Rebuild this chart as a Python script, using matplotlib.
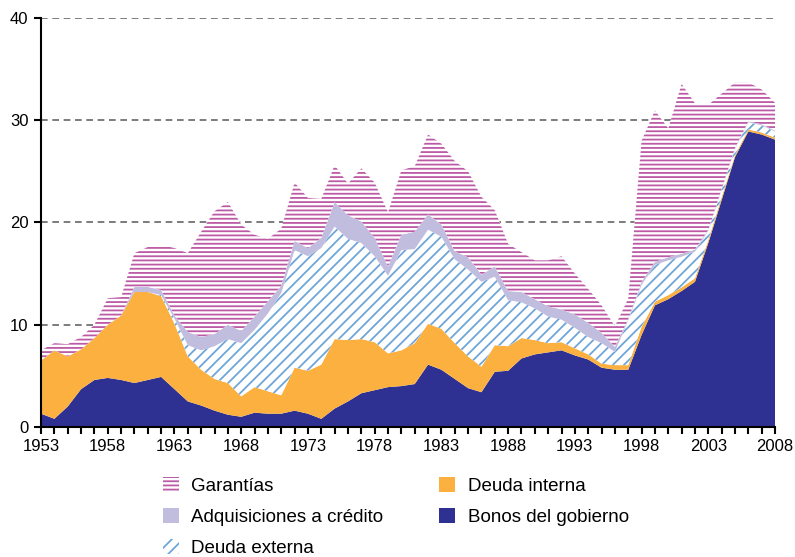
import numpy as np
import matplotlib
matplotlib.use("Agg")
import matplotlib.pyplot as plt

years = np.arange(1953, 2009)

bonos = [
    1.3, 0.8, 2.0, 3.7, 4.6, 4.8, 4.6, 4.3, 4.6, 4.9,
    3.7, 2.5, 2.1, 1.6, 1.2, 1.0, 1.4, 1.3, 1.3, 1.6,
    1.3, 0.8, 1.8, 2.5, 3.3, 3.6, 3.9, 4.0, 4.2, 6.1,
    5.6, 4.7, 3.8, 3.4, 5.4, 5.5, 6.7, 7.1, 7.3, 7.5,
    7.0, 6.6, 5.8, 5.6, 5.6, 9.0, 11.9, 12.5, 13.3, 14.2,
    18.0, 22.2, 26.4, 28.9, 28.6, 28.1,
]
deuda_interna = [
    5.2, 6.7, 4.9, 3.9, 4.1, 5.2, 6.3, 8.9, 8.6, 7.9,
    6.4, 4.4, 3.5, 3.1, 3.1, 2.0, 2.5, 2.2, 1.8, 4.2,
    4.2, 5.3, 6.8, 6.0, 5.3, 4.7, 3.3, 3.5, 4.0, 4.0,
    4.0, 3.5, 3.1, 2.5, 2.6, 2.4, 2.0, 1.4, 0.9, 0.8,
    0.7, 0.5, 0.4, 0.45, 0.45, 0.8, 0.35, 0.4, 0.35, 0.35,
    0.3, 0.3, 0.2, 0.2, 0.2, 0.2,
]
deuda_externa = [
    0.0, 0.0, 0.0, 0.0, 0.0, 0.0, 0.0, 0.0, 0.0, 0.1,
    0.5, 1.1, 1.9, 3.2, 4.3, 5.2, 5.6, 7.6, 10.0, 11.5,
    11.2, 11.4, 11.0, 9.9, 9.4, 8.4, 7.6, 9.8, 9.2, 9.2,
    9.0, 8.2, 8.5, 8.3, 6.7, 4.5, 3.5, 3.1, 2.6, 2.2,
    2.0, 1.7, 2.0, 1.3, 4.4, 4.1, 3.6, 3.4, 3.0, 2.6,
    0.9, 0.7, 0.6, 0.7, 0.7, 0.6,
]
adquisiciones = [
    0.0, 0.0, 0.0, 0.0, 0.0, 0.0, 0.0, 0.5, 0.5, 0.5,
    0.3, 1.3, 1.3, 1.2, 1.4, 1.2, 1.3, 1.2, 0.7, 0.9,
    0.8, 1.0, 2.4, 2.3, 2.1, 1.8, 0.9, 1.5, 1.7, 1.5,
    1.2, 0.8, 1.2, 0.7, 1.0, 0.9, 1.0, 0.9, 1.0, 1.0,
    1.3, 1.4, 1.0, 0.5, 0.1, 0.3, 0.3, 0.3, 0.3, 0.2,
    0.1, 0.1, 0.1, 0.1, 0.1, 0.1,
]
garantias = [
    1.0, 0.7, 1.2, 1.2, 1.3, 2.6, 1.8, 3.3, 3.9, 4.4,
    6.6, 7.7, 10.3, 12.0, 12.0, 10.4, 8.0, 6.1, 5.6, 5.7,
    4.9, 3.8, 3.6, 3.1, 5.2, 5.4, 5.3, 6.3, 6.4, 7.8,
    7.9, 8.8, 8.4, 7.6, 5.5, 4.6, 3.9, 3.8, 4.5, 5.2,
    4.0, 3.3, 2.7, 2.0, 2.0, 13.8, 14.8, 12.6, 16.6, 14.3,
    12.2, 9.3, 6.4, 3.8, 3.4, 2.7,
]

labels = [
    "Bonos del gobierno",
    "Deuda interna",
    "Deuda externa",
    "Adquisiciones a crédito",
    "Garantías",
]

plt.rcParams["font.family"] = ["Liberation Sans", "DejaVu Sans"]
plt.rcParams["hatch.linewidth"] = 1.3

fig = plt.figure(figsize=(7.95, 5.57), dpi=100)
ax = fig.add_axes([0.0516, 0.2334, 0.9233, 0.7343])

series = np.array([bonos, deuda_interna, deuda_externa, adquisiciones, garantias])
tops = np.cumsum(series, axis=0)
bottoms = np.vstack([np.zeros(len(years)), tops[:-1]])

styles = [
    dict(facecolor="#2E3192", edgecolor="none", hatch=None),
    dict(facecolor="#FBB040", edgecolor="none", hatch=None),
    dict(facecolor="white", edgecolor="#6FA6D8", hatch="///"),
    dict(facecolor="#C0BDDF", edgecolor="none", hatch=None),
    dict(facecolor="white", edgecolor="#BC5AA6", hatch="----"),
]

# white underlay so the grid stays hidden behind the hatched areas
ax.fill_between(years, 0, tops[-1], facecolor="white", linewidth=0, zorder=1.5)

handles = []
for i, st in enumerate(styles):
    h = ax.fill_between(
        years, bottoms[i], tops[i],
        facecolor=st["facecolor"], edgecolor=st["edgecolor"],
        hatch=st["hatch"], linewidth=0, label=labels[i], zorder=2,
    )
    handles.append(h)

ax.set_xlim(1953, 2008)
ax.set_ylim(0, 40)
ax.set_xticks(range(1953, 2009, 5))
ax.set_xticks(range(1953, 2009), minor=True)
ax.set_yticks([0, 10, 20, 30, 40])

ax.yaxis.grid(True, linestyle=(0, (4, 2.8)), color="#666666", linewidth=1.2, zorder=0.5)
ax.set_axisbelow(True)

for side in ["top", "right"]:
    ax.spines[side].set_visible(False)
for side in ["left", "bottom"]:
    ax.spines[side].set_linewidth(1.5)
    ax.spines[side].set_zorder(5)

ax.tick_params(axis="both", which="both", direction="out", length=5,
               width=1.5, labelsize=12, colors="black")
ax.tick_params(axis="y", pad=4)
ax.tick_params(axis="x", pad=4)

order = [4, 3, 2, 1, 0]
fig.legend(
    [handles[i] for i in order], [labels[i] for i in order],
    loc="upper left", bbox_to_anchor=(0.205, 0.1435), ncol=2,
    frameon=False, fontsize=13.5, handlelength=0.85, handleheight=0.85,
    handletextpad=0.65, labelspacing=0.7, columnspacing=3.0,
    borderpad=0, borderaxespad=0,
)

fig.savefig("out.png", dpi=100)
